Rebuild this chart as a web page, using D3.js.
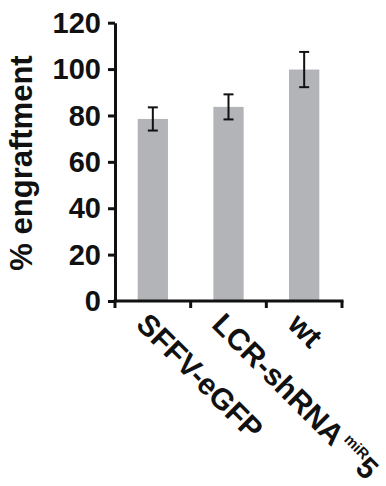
<!DOCTYPE html>
<html>
<head>
<meta charset="utf-8">
<script src="https://cdn.jsdelivr.net/npm/d3@7"></script>
<style>
  html, body { margin: 0; padding: 0; background: #fff; }
  svg { display: block; }
  text { font-family: "Liberation Sans", Arial, sans-serif; font-weight: bold; fill: #111; }
</style>
</head>
<body>
<script>
const categories = ["SFFV-eGFP", "LCR-shRNA", "wt"];
const values = [78.5, 83.7, 99.8];
const errors = [5.0, 5.4, 7.6];
const yTicks = [0, 20, 40, 60, 80, 100, 120];
const yLabel = "% engraftment";

const W = 386, H = 486;
const svg = d3.select("body").append("svg").attr("width", W).attr("height", H);

const x = d3.scaleBand().domain(categories).range([115, 342]).padding(0);
const y = d3.scaleLinear().domain([0, 120]).range([301, 22.7]);
const barW = x.bandwidth() * 0.4;

// bars
svg.selectAll("rect.bar").data(categories).enter().append("rect")
  .attr("class", "bar")
  .attr("x", d => x(d) + (x.bandwidth() - barW) / 2)
  .attr("width", barW)
  .attr("y", (d, i) => y(values[i]))
  .attr("height", (d, i) => y(0) - y(values[i]))
  .attr("fill", "#b3b4b7");

// error bars
const eg = svg.append("g").attr("stroke", "#111").attr("stroke-width", 2).attr("fill", "none");
categories.forEach((c, i) => {
  const cx = x(c) + x.bandwidth() / 2;
  const top = y(values[i] + errors[i]), bot = y(values[i] - errors[i]);
  eg.append("line").attr("x1", cx).attr("x2", cx).attr("y1", top).attr("y2", bot);
  eg.append("line").attr("x1", cx - 5).attr("x2", cx + 5).attr("y1", top).attr("y2", top);
  eg.append("line").attr("x1", cx - 5).attr("x2", cx + 5).attr("y1", bot).attr("y2", bot);
});

// y axis
const yAxis = svg.append("g").attr("transform", "translate(115,0)")
  .call(d3.axisLeft(y).tickValues(yTicks).tickSize(7).tickSizeOuter(0).tickPadding(7));
yAxis.select(".domain").attr("stroke", "#111").attr("stroke-width", 3);
yAxis.selectAll(".tick line").attr("stroke", "#111").attr("stroke-width", 3);
yAxis.selectAll(".tick text").style("font-size", "29px").attr("dy", "0.33em");

// x axis
const xAxis = svg.append("g").attr("transform", "translate(0,301)")
  .call(d3.axisBottom(x).tickSize(0).tickSizeOuter(0).tickFormat(""));
xAxis.select(".domain").attr("stroke", "#111").attr("stroke-width", 3)
  .attr("d", `M${x.range()[0] - 1.5},0H${x.range()[1] + 1.5}`);
xAxis.selectAll(".tick").remove();
const bounds = d3.range(categories.length + 1).map(i => x.range()[0] + i * x.step());
xAxis.selectAll("line.bt").data(bounds).enter().append("line")
  .attr("class", "bt")
  .attr("x1", d => d).attr("x2", d => d).attr("y1", 0).attr("y2", 7)
  .attr("stroke", "#111").attr("stroke-width", 3);

// x labels
categories.forEach((c, i) => {
  const cx = x(c) + x.bandwidth() / 2;
  const t = svg.append("text")
    .attr("transform", `translate(${cx - 18},326) rotate(45)`)
    .attr("text-anchor", "start")
    .style("font-size", "30px");
  t.append("tspan").text(c);
  if (c === "LCR-shRNA") {
    t.append("tspan").attr("dy", -13).attr("dx", 3).style("font-size", "15px").text("miR");
    t.append("tspan").attr("dy", 13).text("5");
  }
});

// y label
svg.append("text")
  .attr("transform", "translate(32,163) rotate(-90)")
  .attr("text-anchor", "middle")
  .style("font-size", "31px")
  .text(yLabel);
</script>
</body>
</html>
